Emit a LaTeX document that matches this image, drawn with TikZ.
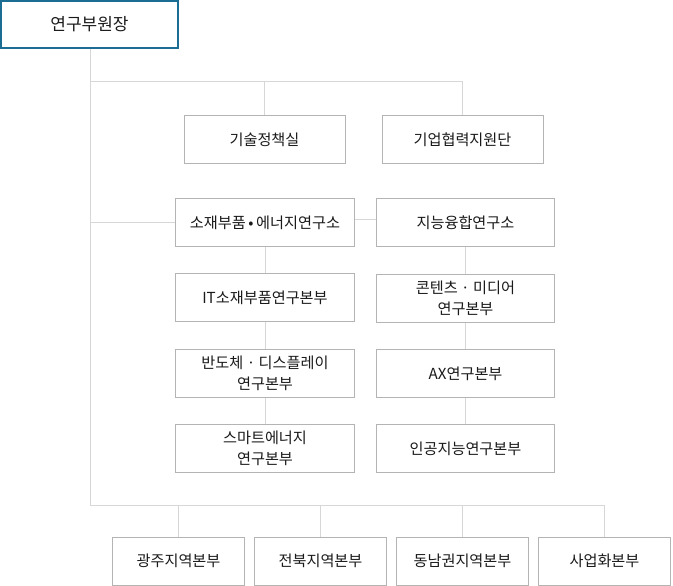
\documentclass[tikz,border=0pt]{standalone}
\usepackage{fontspec}
\setmainfont{Noto Sans CJK KR}
\definecolor{topblue}{HTML}{1B6D94}
\definecolor{boxgray}{HTML}{B4B4B4}
\definecolor{linegray}{HTML}{D7D7D7}
\definecolor{txt}{HTML}{1A1A1A}
\tikzset{
  headbox/.style={draw=topblue, line width=2pt, fill=white, minimum width=177pt, minimum height=47pt, inner sep=0pt, font=\fontsize{17}{20}\selectfont, text=txt},
  unitbox/.style={draw=boxgray, line width=1pt, fill=white, minimum height=48pt, inner sep=0pt, align=center, font=\fontsize{15.2}{21}\selectfont, text=txt},
  conn/.style={draw=linegray, line width=1pt}
}
\begin{document}
\begin{tikzpicture}[x=1pt,y=-1pt]
\useasboundingbox (0,0) rectangle (673,586);
% nodes
\node[headbox] (head) at (89.5,24.5) {연구부원장};
\node[unitbox, minimum width=161pt] (tech) at (264.5,139.5) {기술정책실};
\node[unitbox, minimum width=161pt] (coop) at (462.5,139.5) {기업협력지원단};
\node[unitbox, minimum width=179pt] (l1) at (265,222.5) {소재부품\,•\,에너지연구소};
\node[unitbox, minimum width=178pt] (r1) at (465.5,222.5) {지능융합연구소};
\node[unitbox, minimum width=179pt] (l2) at (265,297.5) {IT소재부품연구본부};
\node[unitbox, minimum width=178pt] (r2) at (465.5,298.5) {콘텐츠 · 미디어\\연구본부};
\node[unitbox, minimum width=179pt] (l3) at (265,373.5) {반도체 · 디스플레이\\연구본부};
\node[unitbox, minimum width=178pt] (r3) at (465.5,373.5) {AX연구본부};
\node[unitbox, minimum width=179pt] (l4) at (265,448.5) {스마트에너지\\연구본부};
\node[unitbox, minimum width=178pt] (r4) at (465.5,448.5) {인공지능연구본부};
\node[unitbox, minimum width=132pt] (b1) at (178.5,561) {광주지역본부};
\node[unitbox, minimum width=132pt] (b2) at (320.5,561) {전북지역본부};
\node[unitbox, minimum width=132pt] (b3) at (462.5,561) {동남권지역본부};
\node[unitbox, minimum width=132pt] (b4) at (604.5,561) {사업화본부};
% coordinates
\coordinate (spine) at (90.5,49);
\coordinate (hjoin) at (90.5,82);
\coordinate (ljoin) at (90.5,222);
\coordinate (bjoin) at (90.5,505.5);
% connectors
\draw[conn] (spine) -- (bjoin) -| (b4.north);
\draw[conn] (hjoin) -| (coop.north);
\draw[conn] (hjoin -| tech.north) -- (tech.north);
\draw[conn] (ljoin) -- (ljoin -| l1.west);
\draw[conn] (l1.east |- 0,219.5) -- (r1.west |- 0,219.5);
\draw[conn] (l1.south) -- (l2.north);
\draw[conn] (l2.south) -- (l3.north);
\draw[conn] (l3.south) -- (l4.north);
\draw[conn] (r1.south) -- (r2.north);
\draw[conn] (r2.south) -- (r3.north);
\draw[conn] (r3.south) -- (r4.north);
\draw[conn] (bjoin -| b1.north) -- (b1.north);
\draw[conn] (bjoin -| b2.north) -- (b2.north);
\draw[conn] (bjoin -| b3.north) -- (b3.north);
\end{tikzpicture}
\end{document}
